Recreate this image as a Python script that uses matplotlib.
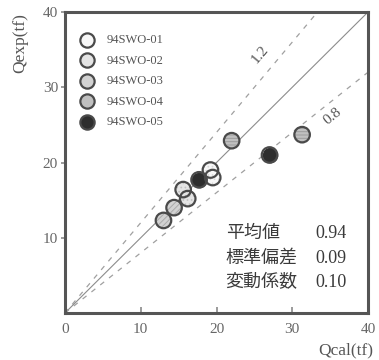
import numpy as np
import matplotlib.pyplot as plt

plt.rcParams['font.family'] = ['Liberation Serif', 'Noto Sans CJK JP']

# test series (Qcal, Qexp) in tf
names = ['94SWO-01', '94SWO-02', '94SWO-03', '94SWO-04', '94SWO-05']
qcal = [[19.2, 19.5], [15.6, 16.2], [14.4, 13.0], [22.0, 31.3], [17.7, 27.0]]
qexp = [[19.0, 18.0], [16.4, 15.2], [14.0, 12.3], [22.9, 23.7], [17.7, 21.0]]
fills = ['#f7f7f7', '#e4e4e4', '#d2d2d2', '#c0c0c0', '#2e2e2e']
hatches = ['....', '....', '//////', '-----', None]
hatch_cols = ['#d8d8d8', '#c2c2c2', '#aaaaaa', '#9c9c9c', '#2e2e2e']

ratios = [1.2, 1.0, 0.8]
stat_names = ['平均値', '標準偏差', '変動係数']
stat_vals = ['0.94', '0.09', '0.10']

xticks = [0, 10, 20, 30, 40]
yticks = [10, 20, 30, 40]

fig = plt.figure(figsize=(3.79, 3.60), dpi=100)
ax = fig.add_axes([0.1715, 0.1306, 0.7995, 0.836])

ink = '#3a3a3a'
grey = '#8a8a8a'

# reference lines
for r in ratios:
    xe = min(40, 40 / r)
    if r == 1.0:
        ax.plot([0, xe], [0, r * xe], color='#8c8c8c', lw=0.8, zorder=1)
    else:
        ax.plot([0, xe], [0, r * xe], color='#a0a0a0', lw=0.9,
                ls=(0, (4, 5)), zorder=1)
ax.text(25.8, 34.3, '1.2', rotation=50, color='#555555', fontsize=11,
        ha='center', va='center')
ax.text(35.3, 26.2, '0.8', rotation=39, color='#555555', fontsize=11,
        ha='center', va='center')

plt.rcParams['hatch.linewidth'] = 0.7
for i in range(len(names)):
    # fill + faint texture, then outline on top
    ax.scatter(qcal[i], qexp[i], s=125, facecolor=fills[i], edgecolor=hatch_cols[i],
               linewidth=0, hatch=hatches[i], zorder=3)
    ax.scatter(qcal[i], qexp[i], s=125, facecolor='none', edgecolor='#4a4a4a',
               linewidth=1.6, zorder=4)
    ax.scatter([], [], s=125, facecolor=fills[i], edgecolor='#4a4a4a',
               linewidth=1.6, label=names[i])

leg = ax.legend(loc='upper left', bbox_to_anchor=(0.0, 0.96), frameon=False,
                handletextpad=0.5, labelspacing=0.68, borderpad=0.3,
                fontsize=9, scatterpoints=1, markerscale=0.92)
for t in leg.get_texts():
    t.set_color('#555555')

# statistics
for k in range(3):
    y = 10.6 - k * 3.3
    ax.text(21.2, y, stat_names[k], fontsize=13, color=ink, va='center', ha='left')
    ax.text(37.2, y, stat_vals[k], fontsize=13, color=ink, va='center', ha='right')

ax.set_xlim(0, 40)
ax.set_ylim(0, 40)
ax.set_xticks(xticks)
ax.set_yticks(yticks)
ax.tick_params(axis='x', direction='in', length=4, width=1.2, colors=grey,
               labelcolor='#666666', labelsize=11, pad=7)
ax.tick_params(axis='y', direction='out', length=3, width=1.2, colors=grey,
               labelcolor='#666666', labelsize=11, pad=2)
for s in ax.spines.values():
    s.set_linewidth(2.2)
    s.set_color('#555555')

fig.text(0.053, 0.88, 'Qexp(tf)', rotation=90, fontsize=12.5, color='#555555',
         ha='center', va='center')
fig.text(0.985, 0.028, 'Qcal(tf)', fontsize=12.5, color='#555555',
         ha='right', va='center')

fig.savefig('out.png', dpi=100)
